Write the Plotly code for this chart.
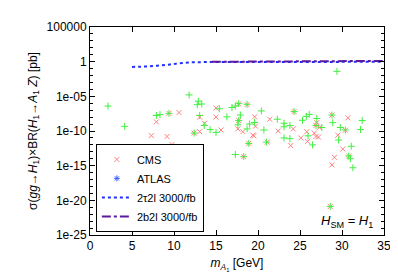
import plotly.graph_objects as go

# ---------------- data ----------------
cms_mass = [7.9, 7.3, 9.4, 10.6, 9.17, 9.76, 13.06, 13.65, 13.06, 12.4, 15.0, 17.7, 18.7, 15.0,
            19.6, 21.4, 17.7, 17.6, 19.7, 18.2, 19.4, 22.4, 15.6, 24.3, 28.8, 30.7, 26.9, 27.3,
            24.2, 30.4, 25.8, 26.7, 27.2, 29.5, 25.1, 25.9, 23.9, 30.1, 18.9, 19.5, 27.0, 21.1,
            18.3, 29.1, 30.8, 28.8, 28.6, 26.9]
cms_xsec = [2.1e-9, 2.2e-11, 3.5e-8, 4.5e-8, 1.6e-11, 1.1e-12, 1e-8, 1.3e-9, 7.9e-11, 5e-11, 2e-7,
            7.9e-7, 6.3e-7, 1e-8, 1.1e-8, 5e-9, 3.2e-9, 2e-10, 5e-10, 7.9e-11, 2.5e-11, 1e-10,
            1.4e-10, 6.3e-8, 2e-8, 7.9e-9, 6.3e-10, 3.2e-10, 2e-10, 1.3e-10, 7.9e-11, 5e-11,
            1.3e-11, 2.5e-11, 1e-11, 3.2e-12, 7.9e-13, 2.5e-13, 1.6e-12, 2e-11, 1.6e-9, 2.5e-12,
            2e-14, 1.6e-14, 2.5e-14, 1.3e-15, 1.3e-21, 1.6e-11]

other_mass = [2.14, 4.13, 7.9, 8.33, 9.4, 11.8, 12.77, 12.9, 13.3, 13.06, 13.6, 12.4, 10.1, 15.4,
              16.9, 17.3, 17.7, 18.7, 16.3, 17.9, 20.4, 22.3, 23.1, 23.1, 17.7, 17.6, 19.0, 19.6,
              18.7, 20.7, 15.0, 14.3, 24.3, 25.75, 26.1, 28.8, 32.4, 28.9, 25.3, 27.0, 26.9, 27.6,
              29.8, 30.4, 32.2, 29.6, 23.8, 23.1, 26.5, 31.1, 18.9, 21.0, 23.8, 25.95, 17.3, 18.3,
              30.8, 31.0, 31.3, 28.6, 29.4]
other_xsec = [4e-7, 4.7e-10, 1.7e-8, 2.3e-8, 3.5e-8, 1.6e-5, 6.3e-7, 2e-6, 7.9e-7, 1.7e-8, 6.3e-10,
              5e-11, 5e-14, 1.6e-7, 2.5e-7, 4e-7, 8.9e-7, 7.1e-7, 1.1e-8, 2e-8, 7.9e-8, 5e-9,
              1.3e-9, 4e-10, 3.2e-9, 7.9e-10, 1e-9, 1.7e-9, 2e-10, 1.4e-10, 6.3e-11, 1.6e-10,
              6.3e-8, 1.3e-8, 2.5e-8, 2e-8, 3.2e-9, 1.6e-9, 3.5e-9, 6.3e-9, 6.3e-10, 3.2e-10,
              3.2e-10, 1.4e-10, 1.6e-10, 5e-12, 7.9e-12, 1e-11, 1e-12, 6.3e-13, 1.6e-12, 2.5e-12,
              6.3e-10, 2e-11, 4e-14, 2e-14, 2.5e-14, 1e-14, 5e-16, 1.3e-21, 4e-2]

tautau_mass = [5, 6, 7, 8, 9, 10, 11, 12, 13, 14, 15, 17, 20, 23, 26, 29, 32, 35]
tautau_xsec = [0.175, 0.19, 0.21, 0.26, 0.34, 0.47, 0.63, 0.81, 0.85, 0.88, 0.88, 0.88, 0.9, 0.9,
               0.92, 0.93, 0.95, 0.95]

bb_mass = [14.5, 17, 20, 23, 26, 29, 32, 35]
bb_xsec = [0.95, 1.0, 1.05, 1.1, 1.2, 1.25, 1.3, 1.3]

y_tickvals = [1e-25, 1e-20, 1e-15, 1e-10, 1e-05, 1, 100000]
y_ticktext = ["1e-25", "1e-20", "1e-15", "1e-10", "1e-05", "1", "100000"]
y_minorvals = [10.0 ** k for k in range(-25, 6)]
x_tickvals = [0, 5, 10, 15, 20, 25, 30, 35]

FONT = "Liberation Sans, Arial, sans-serif"

fig = go.Figure()
fig.add_trace(go.Scatter(
    x=cms_mass, y=cms_xsec, mode="markers", name="CMS",
    marker=dict(symbol="x-thin", size=5, color="#ff8080", line=dict(width=1, color="#ff8080"))))
fig.add_trace(go.Scatter(
    x=[None], y=[None], mode="markers", name="ATLAS",
    marker=dict(symbol="asterisk-open", size=5, color="#4060ff", line=dict(width=1, color="#4060ff"))))
fig.add_trace(go.Scatter(
    x=other_mass, y=other_xsec, mode="markers", showlegend=False,
    marker=dict(symbol="cross-thin", size=5, color="#40f040", line=dict(width=1, color="#40f040"))))
fig.add_trace(go.Scatter(
    x=tautau_mass, y=tautau_xsec, mode="lines", name="2τ2l 3000/fb",
    line=dict(color="#2030ff", width=2, dash="dot", shape="spline")))
fig.add_trace(go.Scatter(
    x=bb_mass, y=bb_xsec, mode="lines", name="2b2l 3000/fb",
    line=dict(color="#5a1aa0", width=2, dash="dashdot")))

axis_common = dict(showline=True, linecolor="black", linewidth=1, mirror="allticks",
                   ticks="inside", tickcolor="black", showgrid=False, zeroline=False,
                   tickfont=dict(family=FONT, size=12, color="black"))

fig.update_xaxes(range=[0, 35], tickmode="array", tickvals=x_tickvals, ticklen=5,
                 title=dict(text="<i>m</i><sub><i>A</i><sub>1</sub></sub> [GeV]",
                            font=dict(family=FONT, size=12, color="black"), standoff=6),
                 **axis_common)
fig.update_yaxes(type="log", range=[-25, 5], tickmode="array", tickvals=y_tickvals,
                 ticktext=y_ticktext, ticklen=5,
                 minor=dict(tickmode="array", tickvals=y_minorvals, ticks="inside", ticklen=3,
                            tickcolor="black"),
                 title=dict(text="σ(<i>gg</i>→<i>H</i><sub>1</sub>)×BR(<i>H</i><sub>1</sub>→<i>A</i><sub>1</sub> <i>Z</i>) [pb]",
                            font=dict(family=FONT, size=12, color="black"), standoff=6),
                 **axis_common)

fig.add_annotation(text="<i>H</i><sub>SM</sub> = <i>H</i><sub>1</sub>", xref="paper", yref="paper",
                   x=0.97, y=0.015, xanchor="right", yanchor="bottom", showarrow=False,
                   font=dict(family=FONT, size=13, color="black"))

fig.update_layout(
    width=398, height=279,
    margin=dict(l=82, r=22, t=15, b=52),
    paper_bgcolor="white", plot_bgcolor="white",
    font=dict(family=FONT, size=12, color="black"),
    legend=dict(x=0.02, y=0.015, xanchor="left", yanchor="bottom",
                bordercolor="black", borderwidth=1, bgcolor="white",
                font=dict(family=FONT, size=11, color="black"),
                tracegroupgap=0, itemwidth=30),
)

fig.write_html("out.html")
